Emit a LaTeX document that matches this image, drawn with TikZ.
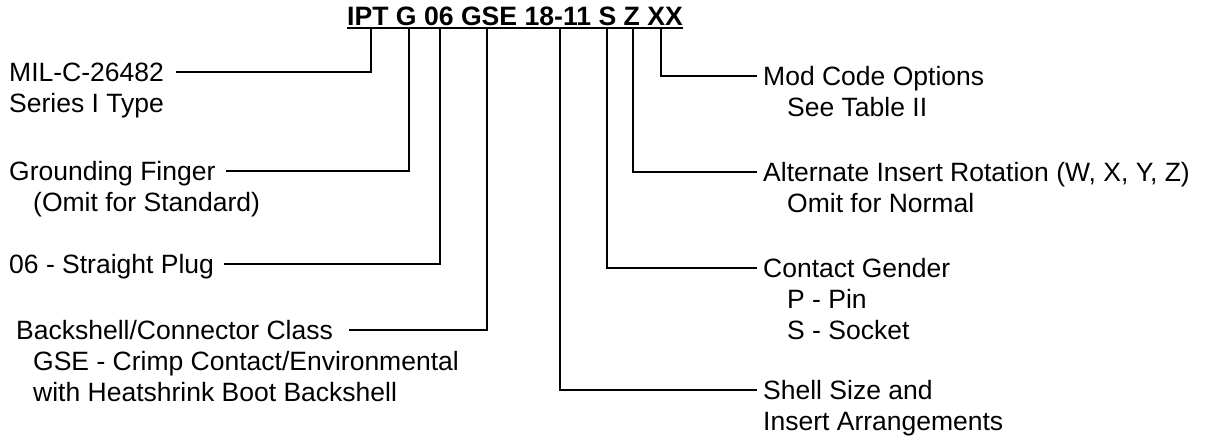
\documentclass[tikz,border=0pt]{standalone}
\usepackage{fontspec}
\setmainfont{Liberation Sans}
\begin{document}
\begin{tikzpicture}[x=1pt, y=-1pt,
		lbl/.style={anchor=base west, inner sep=0pt, text height=19pt, text depth=0pt,
			font=\fontsize{26.5}{31}\selectfont},
		link/.style={line width=2pt}]
		\useasboundingbox (0, 0) rectangle (1205, 445);
		% part number
		\node[lbl, font=\fontsize{26.6}{31}\selectfont\bfseries] (title) at (347, 25) {IPT G 06 GSE 18-11 S Z XX};
		\draw[link] ([yshift=-3pt]title.base west) -- ([yshift=-3pt]title.base east);
		\foreach \code/\x in {ipt/371, g/409, six/440, gse/487, size/560, s/607, z/633, xx/661}{
			\coordinate (t\code) at (\x, 28);
		}
		% left side
		\node[lbl] (mil) at (9, 81.5) {MIL-C-26482};
		\node[lbl] (series) at (9, 112.5) {Series I Type};
		\node[lbl] (ground) at (9, 180.5) {Grounding Finger};
		\node[lbl] (omitstd) at (33, 211.5) {(Omit for Standard)};
		\node[lbl] (plug) at (9, 273.5) {06 - Straight Plug};
		\node[lbl] (backshell) at (16, 339.5) {Backshell/Connector Class};
		\node[lbl] (gsetxt) at (33, 370.5) {GSE - Crimp Contact/Environmental};
		\node[lbl] (heat) at (33, 401.5) {with Heatshrink Boot Backshell};
		% right side
		\node[lbl] (mod) at (763, 85.5) {Mod Code Options};
		\node[lbl] (table) at (787, 116.5) {See Table II};
		\node[lbl] (rotation) at (763, 181.5) {Alternate Insert Rotation (W, X, Y, Z)};
		\node[lbl] (omitnorm) at (787, 212.5) {Omit for Normal};
		\node[lbl] (gender) at (763, 277.5) {Contact Gender};
		\node[lbl] (pin) at (787, 308.5) {P - Pin};
		\node[lbl] (socket) at (787, 339.5) {S - Socket};
		\node[lbl] (shell) at (763, 399.5) {Shell Size and};
		\node[lbl] (arrange) at (763, 430.5) {Insert Arrangements};
		% connectors
		\draw[link, shorten >=12pt] (tipt) |- (mil);
		\draw[link, shorten >=10pt] (tg) |- (ground);
		\draw[link, shorten >=10pt] (tsix) |- (plug);
		\draw[link, shorten >=16pt] (tgse) |- (backshell);
		\draw[link, shorten >=6pt] (tsize) |- (shell);
		\draw[link, shorten >=6pt] (ts) |- (gender);
		\draw[link, shorten >=6pt] (tz) |- (rotation);
		\draw[link, shorten >=6pt] (txx) |- (mod);
	\end{tikzpicture}
\end{document}
